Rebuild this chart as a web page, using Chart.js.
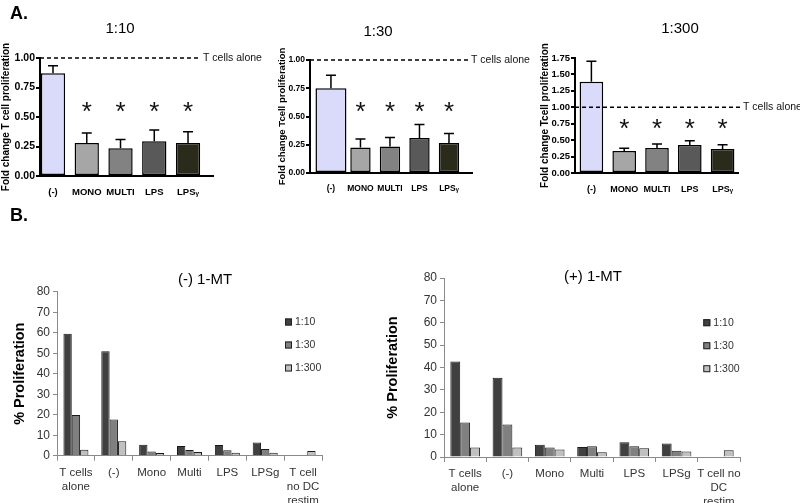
<!DOCTYPE html>
<html><head><meta charset="utf-8">
<script src="https://cdn.jsdelivr.net/npm/chart.js@4.4.1/dist/chart.umd.min.js"></script>
<style>
html,body{margin:0;padding:0;background:#fff;width:800px;height:503px;overflow:hidden;position:relative}
canvas{position:absolute}
</style></head><body>
<canvas id="a1" width="268" height="200" style="left:0px;top:0px;width:268px;height:200px"></canvas>
<canvas id="a2" width="262" height="200" style="left:268px;top:0px;width:262px;height:200px"></canvas>
<canvas id="a3" width="270" height="200" style="left:530px;top:0px;width:270px;height:200px"></canvas>
<canvas id="b1" width="400" height="303" style="left:0px;top:200px;width:400px;height:303px"></canvas>
<canvas id="b2" width="420" height="303" style="left:380px;top:200px;width:420px;height:303px"></canvas>
<script>
// ---------- DATA ----------
const aCategories = ['(-)', 'MONO', 'MULTI', 'LPS', 'LPSᵧ'];
// Panel A, 1:10
const a110Mean  = [0.87, 0.28, 0.235, 0.295, 0.28];
const a110Upper = [0.935, 0.365, 0.31, 0.39, 0.375];
const a110Star  = [null, 0.6, 0.6, 0.6, 0.6];
// Panel A, 1:30
const a130Mean  = [0.75, 0.225, 0.235, 0.31, 0.265];
const a130Upper = [0.865, 0.30, 0.315, 0.43, 0.35];
const a130Star  = [null, 0.6, 0.6, 0.6, 0.6];
// Panel A, 1:300
const a1300Mean  = [1.39, 0.335, 0.38, 0.425, 0.365];
const a1300Upper = [1.70, 0.375, 0.44, 0.49, 0.43];
const a1300Star  = [null, 0.77, 0.77, 0.77, 0.77];
const tCellsAloneLevel = 1.0;

// Panel B
const bSeries = ['1:10', '1:30', '1:300'];
const bCategoriesMinus = [['T cells', 'alone'], '(-)', 'Mono', 'Multi', 'LPS', 'LPSg', ['T cell', 'no DC', 'restim']];
const bCategoriesPlus  = [['T cells', 'alone'], '(-)', 'Mono', 'Multi', 'LPS', 'LPSg', ['T cell no', 'DC', 'restim']];
const bMinus110  = [59.5, 51.0, 5.4, 4.7, 5.2, 6.5, null];
const bMinus130  = [19.8, 17.7, 2.1, 2.8, 2.6, 3.3, null];
const bMinus1300 = [2.9, 7.0, 1.3, 1.8, 1.5, 1.5, 2.3];
const bPlus110  = [42.7, 35.4, 5.5, 4.5, 6.6, 6.0, null];
const bPlus130  = [15.4, 14.5, 4.3, 4.8, 4.8, 2.8, null];
const bPlus1300 = [4.3, 4.3, 3.4, 2.1, 3.9, 2.5, 3.0];

// ---------- STYLE ----------
const SANS = '"Liberation Sans", Arial, sans-serif';
Chart.defaults.font.family = SANS;
const aColors = ['#dadafa', '#a6a6a6', '#828282', '#595959', '#2b2b1b'];
const bColors = ['#404040', '#808080', '#c0c0c0'];

// ---------- PLUGINS ----------
const freeText = {
  id: 'freeText',
  afterDraw(chart, args, o) {
    if (!o || !o.items) return;
    const ctx = chart.ctx;
    ctx.save();
    o.items.forEach(t => {
      ctx.font = t.font; ctx.fillStyle = t.color || '#000';
      ctx.textAlign = t.align || 'center'; ctx.textBaseline = 'middle';
      ctx.fillText(t.text, t.x, t.y);
    });
    ctx.restore();
  }
};
const gpExtras = {
  id: 'gpExtras',
  afterDatasetsDraw(chart, args, o) {
    if (!o || !o.upper) return;
    const {ctx, chartArea, scales: {x, y}} = chart;
    ctx.save();
    // reference line
    const ly = y.getPixelForValue(o.refLevel);
    const lineEnd = chartArea.right + o.lineEndOffset;
    ctx.strokeStyle = '#000'; ctx.lineWidth = 1.5; ctx.setLineDash([4, 3]);
    ctx.beginPath(); ctx.moveTo(chartArea.left, ly); ctx.lineTo(lineEnd, ly); ctx.stroke();
    ctx.setLineDash([]);
    ctx.fillStyle = '#111'; ctx.font = '10.5px ' + SANS; ctx.textAlign = 'left'; ctx.textBaseline = 'middle';
    ctx.fillText(o.refLabel, lineEnd + o.labelGap, ly);
    // error bars (upper only)
    ctx.lineWidth = 1.5; ctx.strokeStyle = '#000';
    o.upper.forEach((u, i) => {
      const px = x.getPixelForValue(i);
      const top = y.getPixelForValue(u);
      const base = y.getPixelForValue(o.means[i]);
      ctx.beginPath();
      ctx.moveTo(px, base); ctx.lineTo(px, top);
      ctx.moveTo(px - o.capW / 2, top); ctx.lineTo(px + o.capW / 2, top);
      ctx.stroke();
    });
    // significance stars
    ctx.font = '26px ' + SANS; ctx.textAlign = 'center'; ctx.textBaseline = 'alphabetic'; ctx.fillStyle = '#111';
    o.stars.forEach((s, i) => {
      if (s === null || s === undefined) return;
      ctx.fillText('*', x.getPixelForValue(i), y.getPixelForValue(s) + 26 * 0.58);
    });
    ctx.restore();
  }
};
const boxLegend = {
  id: 'boxLegend',
  afterDraw(chart, args, o) {
    if (!o || o.x === undefined) return;
    const ctx = chart.ctx;
    ctx.save();
    chart.data.datasets.forEach((ds, i) => {
      const yy = o.y + i * o.gap;
      ctx.fillStyle = ds.backgroundColor;
      ctx.fillRect(o.x, yy - o.box / 2, o.box, o.box);
      ctx.strokeStyle = '#222'; ctx.lineWidth = 1;
      ctx.strokeRect(o.x + 0.5, yy - o.box / 2 + 0.5, o.box - 1, o.box - 1);
      ctx.fillStyle = '#333'; ctx.font = '10.5px ' + SANS; ctx.textAlign = 'left'; ctx.textBaseline = 'middle';
      ctx.fillText(ds.label, o.x + o.box + 3, yy);
    });
    ctx.restore();
  }
};
Chart.register(freeText, gpExtras, boxLegend);

// ---------- PANEL A ----------
function makeA(id, c) {
  const toPts = (keepFirst) => c.means.map((v, i) => ({x: i, y: (i === 0) === keepFirst ? v : null}));
  new Chart(document.getElementById(id), {
    type: 'bar',
    data: {
      datasets: [
        {data: toPts(true), backgroundColor: aColors, borderColor: '#000', borderWidth: 1.5, borderSkipped: false,
         grouped: false, categoryPercentage: 1, barPercentage: c.firstPct},
        {data: toPts(false), backgroundColor: aColors, borderColor: '#000', borderWidth: 1.5, borderSkipped: false,
         grouped: false, categoryPercentage: 1, barPercentage: c.pct}
      ]
    },
    options: {
      responsive: false, animation: false,
      layout: {padding: {left: c.pl, right: c.pr, top: c.pt, bottom: 0}},
      plugins: {
        legend: {display: false}, tooltip: {enabled: false},
        freeText: {items: c.texts},
        gpExtras: {upper: c.upper, means: c.means, stars: c.stars, refLevel: tCellsAloneLevel,
                   refLabel: 'T cells alone', lineEndOffset: c.lineEndOffset, labelGap: 3, capW: 10}
      },
      scales: {
        x: {
          type: 'linear', min: c.xmin, max: c.xmax, offset: false,
          grid: {display: false},
          border: {color: '#000', width: 2},
          ticks: {stepSize: 1, includeBounds: false, autoSkip: false, maxRotation: 0, padding: 3,
                  color: '#000', font: {size: c.xFont, weight: 'bold'},
                  callback: (v) => (aCategories[v] !== undefined ? aCategories[v] : '')},
          afterFit: (s) => { s.height = c.xh; }
        },
        y: {
          min: 0, max: c.ymax,
          grid: {drawOnChartArea: false, drawTicks: true, tickLength: 4, color: '#000', lineWidth: 2},
          border: {color: '#000', width: 2},
          ticks: {stepSize: 0.25, padding: 1, color: '#000', font: {size: c.yFont, weight: 'bold'},
                  callback: (v) => Number(v).toFixed(2)},
          title: {display: true, text: c.ytitle, color: '#000', padding: 0, font: {size: c.titleFont, weight: 'bold'}},
          afterFit: (s) => { s.width = c.yw; }
        }
      }
    }
  });
}

makeA('a1', {means: a110Mean, upper: a110Upper, stars: a110Star, ymax: 1.0,
  ytitle: 'Fold change T cell proliferation', titleFont: 10, yFont: 10.5, xFont: 9.5,
  pl: 0, yw: 40, pr: 55, pt: 58, xh: 24, xmin: -0.385, xmax: 4.74, firstPct: 0.72, pct: 0.72,
  lineEndOffset: -13,
  texts: [{text: 'A.', x: 10, y: 14, font: 'bold 18px ' + SANS, align: 'left'},
          {text: '1:10', x: 120, y: 29, font: '15px ' + SANS}]});
makeA('a2', {means: a130Mean, upper: a130Upper, stars: a130Star, ymax: 1.0,
  ytitle: 'Fold change Tcell proliferation', titleFont: 9.5, yFont: 8.5, xFont: 8.5,
  pl: 8.3, yw: 33.7, pr: 58, pt: 60, xh: 27, xmin: -0.71, xmax: 4.78, firstPct: 1.05, pct: 0.69,
  lineEndOffset: -4,
  texts: [{text: '1:30', x: 110, y: 32, font: '15px ' + SANS}]});
makeA('a3', {means: a1300Mean, upper: a1300Upper, stars: a1300Star, ymax: 1.75,
  ytitle: 'Fold change Tcell proliferation', titleFont: 10, yFont: 9.5, xFont: 9,
  pl: 9, yw: 36, pr: 62, pt: 58, xh: 27, xmin: -0.5, xmax: 4.47, firstPct: 0.72, pct: 0.72,
  lineEndOffset: 2,
  texts: [{text: '1:300', x: 150, y: 29, font: '15px ' + SANS}]});

// ---------- PANEL B ----------
function makeB(id, c) {
  new Chart(document.getElementById(id), {
    type: 'bar',
    data: {
      labels: c.labels,
      datasets: bSeries.map((name, k) => ({
        label: name, data: c.series[k], backgroundColor: bColors[k], borderColor: '#1a1a1a', borderWidth: 1,
        borderSkipped: 'start', categoryPercentage: c.catPct, barPercentage: 1
      }))
    },
    options: {
      responsive: false, animation: false,
      layout: {padding: {left: c.pl, right: c.pr, top: c.pt, bottom: 0}},
      plugins: {
        legend: {display: false}, tooltip: {enabled: false},
        freeText: {items: c.texts},
        boxLegend: {x: c.legX, y: c.legY, gap: 23, box: 7}
      },
      scales: {
        x: {
          grid: {display: true, drawOnChartArea: false, drawTicks: true, tickLength: 5, color: '#8a8a8a', offset: true},
          border: {color: '#8a8a8a', width: 1},
          ticks: {autoSkip: false, maxRotation: 0, padding: 5, color: '#333', font: {size: 11.5, lineHeight: 1.22}},
          afterFit: (s) => { s.height = c.xh; }
        },
        y: {
          min: 0, max: 80,
          grid: {drawOnChartArea: false, drawTicks: true, tickLength: 4, color: '#8a8a8a'},
          border: {color: '#8a8a8a', width: 1},
          ticks: {stepSize: 10, padding: 3, color: '#333', font: {size: 12}},
          title: {display: true, text: '% Proliferation', color: '#000', padding: 0, font: {size: 14.5, weight: 'bold'}},
          afterFit: (s) => { s.width = c.yw; }
        }
      }
    }
  });
}

makeB('b1', {labels: bCategoriesMinus, series: [bMinus110, bMinus130, bMinus1300], catPct: 0.66,
  pl: 11.3, yw: 45.7, pr: 78, pt: 91.7, xh: 47.3, legX: 285, legY: 122,
  texts: [{text: 'B.', x: 10, y: 16.5, font: 'bold 18px ' + SANS, align: 'left'},
          {text: '(-) 1-MT', x: 205, y: 80, font: '15px ' + SANS}]});
makeB('b2', {labels: bCategoriesPlus, series: [bPlus110, bPlus130, bPlus1300], catPct: 0.70,
  pl: 4.3, yw: 59.7, pr: 60, pt: 78, xh: 46, legX: 323.3, legY: 122.7,
  texts: [{text: '(+) 1-MT', x: 213, y: 77, font: '15px ' + SANS}]});
</script>
</body></html>
